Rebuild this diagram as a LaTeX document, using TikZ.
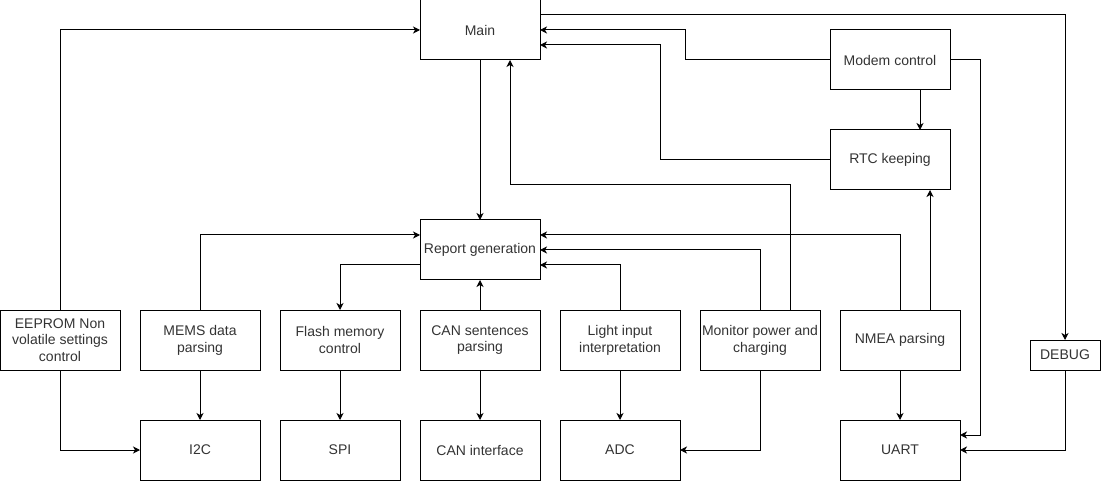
\documentclass[tikz,border=0pt]{standalone}
\usepackage{fontspec}
\setmainfont{Liberation Sans}
\usetikzlibrary{arrows.meta}
\definecolor{txt}{RGB}{51,51,51}
\begin{document}
\begin{tikzpicture}[x=1pt,y=-1pt,
  box/.style={draw=black,line width=1pt,rectangle,minimum width=120pt,minimum height=60pt,inner sep=1pt,outer sep=0pt,align=center,text=txt,font=\fontsize{14pt}{16.8pt}\selectfont},
  smallbox/.style={box,minimum width=70pt,minimum height=30pt},
  arr/.style={draw=black,line width=1pt,-{Stealth[length=7pt,width=7pt,inset=2pt]}}
]
\useasboundingbox (0,0) rectangle (1101,481);
\node[box] (main) at (480,30) {Main};
\node[box] (modem) at (890,60) {Modem control};
\node[box] (rtc) at (890,160) {RTC keeping};
\node[box] (report) at (480,250) {Report generation};
\node[box] (eeprom) at (60,340) {EEPROM Non\\volatile settings\\control};
\node[box] (mems) at (200,340) {MEMS data\\parsing};
\node[box] (flash) at (340,340) {Flash memory\\control};
\node[box] (cansent) at (480,340) {CAN sentences\\parsing};
\node[box] (light) at (620,340) {Light input\\interpretation};
\node[box] (monitor) at (760,340) {Monitor power and\\charging};
\node[box] (nmea) at (900,340) {NMEA parsing};
\node[smallbox] (debug) at (1065,355) {DEBUG};
\node[box] (i2c) at (200,450) {I2C};
\node[box] (spi) at (340,450) {SPI};
\node[box] (canif) at (480,450) {CAN interface};
\node[box] (adc) at (620,450) {ADC};
\node[box] (uart) at (900,450) {UART};

\coordinate (bm1) at (685,60);
\coordinate (br1) at (660,160);
\coordinate (bmon) at (790,185);
\coordinate (bmod) at (980,60);
\coordinate (nmea2) at (930,310);
\coordinate (mon2) at (790,310);

% top
\draw[arr] ([yshift=-15pt]main.north east) -| (debug.north);
\draw[arr] (modem.west) -- (bm1) |- (main.east);
\draw[arr] (rtc.west) -- (br1) |- ([yshift=-15pt]main.east);
\draw[arr] (mon2) -- (bmon) -| ([xshift=30pt]main.south);
\draw[arr] (main.south) -- (report.north);
\draw[arr] ([xshift=30pt]modem.south) -- ([xshift=30pt]rtc.north);
\draw[arr] (nmea2) -- (nmea2 |- rtc.south);
\draw[arr] (modem.east) -- (bmod) |- ([yshift=15pt]uart.east);
% left
\draw[arr] (eeprom.north) |- (main.west);
\draw[arr] (eeprom.south) |- (i2c.west);
\draw[arr] (mems.north) |- ([yshift=15pt]report.west);
\draw[arr] ([yshift=-15pt]report.west) -| (flash.north);
% right into report
\draw[arr] (nmea.north) |- ([yshift=15pt]report.east);
\draw[arr] (monitor.north) |- (report.east);
\draw[arr] (light.north) |- ([yshift=-15pt]report.east);
\draw[arr] (cansent.north) -- (report.south);
% down
\draw[arr] (mems.south) -- (i2c.north);
\draw[arr] (flash.south) -- (spi.north);
\draw[arr] (cansent.south) -- (canif.north);
\draw[arr] (light.south) -- (adc.north);
\draw[arr] (nmea.south) -- (uart.north);
\draw[arr] (monitor.south) |- (adc.east);
\draw[arr] (debug.south) |- (uart.east);
\end{tikzpicture}
\end{document}
